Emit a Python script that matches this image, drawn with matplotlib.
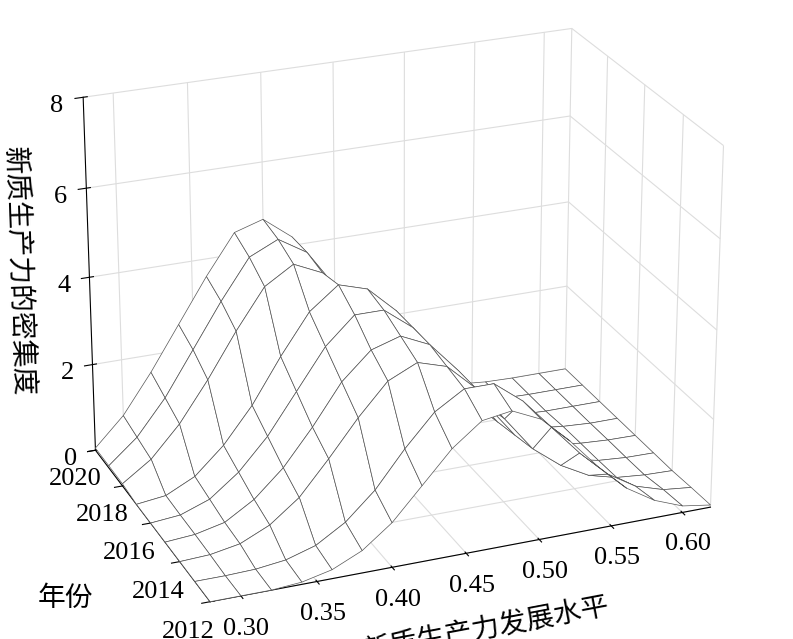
import matplotlib
matplotlib.use("Agg")
import matplotlib.pyplot as plt
import numpy as np

plt.rcParams['font.family'] = ['Liberation Serif', 'Noto Sans CJK SC']

years = [2012, 2013, 2014, 2015, 2016, 2017, 2018, 2019, 2020]
levels = [0.28, 0.30, 0.32, 0.34, 0.36, 0.38, 0.40, 0.42, 0.44,
          0.46, 0.48, 0.50, 0.52, 0.54, 0.56, 0.58, 0.60, 0.62]
density = [
    [0, 0, 0, 0.05, 0.2, 0.5, 1.0, 1.7, 2.4, 2.9, 3.0, 2.7, 2.1, 1.4, 0.8, 0.4, 0.15, 0.05],
    [0, 0, 0.02, 0.1, 0.3, 0.7, 1.3, 2.1, 2.8, 3.2, 3.2, 2.7, 2.0, 1.3, 0.7, 0.3, 0.1, 0.03],
    [0, 0.03, 0.15, 0.45, 0.95, 1.7, 2.5, 3.2, 3.5, 3.3, 2.7, 1.9, 1.1, 0.6, 0.25, 0.08, 0.02, 0],
    [0, 0.05, 0.2, 0.6, 1.2, 2.0, 2.9, 3.5, 3.7, 3.4, 2.7, 1.8, 1.0, 0.5, 0.2, 0.06, 0.01, 0],
    [0, 0.06, 0.3, 0.8, 1.5, 2.4, 3.3, 3.9, 3.9, 3.4, 2.6, 1.7, 0.9, 0.4, 0.15, 0.05, 0.01, 0],
    [0, 0.08, 0.4, 1.0, 1.8, 2.8, 3.7, 4.2, 4.0, 3.4, 2.5, 1.6, 0.8, 0.35, 0.12, 0.04, 0, 0],
    [0.05, 0.5, 1.2, 2.1, 3.1, 4.0, 4.4, 4.1, 3.4, 2.4, 1.5, 0.75, 0.3, 0.1, 0.03, 0, 0, 0],
    [0.05, 0.6, 1.4, 2.4, 3.4, 4.3, 4.6, 4.2, 3.3, 2.3, 1.4, 0.7, 0.28, 0.09, 0.02, 0, 0, 0],
    [0.05, 0.7, 1.6, 2.6, 3.6, 4.5, 4.7, 4.2, 3.3, 2.2, 1.3, 0.65, 0.25, 0.08, 0.02, 0, 0, 0],
]

X, Y = np.meshgrid(levels, years)
Z = np.array(density)

fig = plt.figure(figsize=(7.93, 6.39), dpi=100)
ax = fig.add_axes([-0.08, -0.06, 1.14, 1.14], projection="3d")
ax.plot_surface(X, Y, Z, color="white", edgecolor="#555555", linewidth=0.5,
                rstride=1, cstride=1, shade=False)
ax.view_init(elev=24, azim=-112)
ax.set_box_aspect((1.5, 1.0, 1.1))
ax.set_xlim(0.28, 0.62); ax.set_ylim(2012, 2020); ax.set_zlim(0, 8)
xt = [0.30, 0.35, 0.40, 0.45, 0.50, 0.55, 0.60]
ax.set_xticks(xt)
ax.set_xticklabels([f"{v:.2f}" for v in xt])
ax.set_yticks([2012, 2014, 2016, 2018, 2020])
ax.set_zticks([0, 2, 4, 6, 8])
ax.tick_params(labelsize=19)
ax.set_xlabel("新质生产力发展水平", fontsize=20, labelpad=20)
ax.set_ylabel("年份", fontsize=20, labelpad=26)
ax.set_zlabel("新质生产力的密集度", fontsize=20, labelpad=12)
for a in (ax.xaxis, ax.yaxis, ax.zaxis):
    a.set_pane_color((1, 1, 1, 1))
    a._axinfo["grid"]["color"] = "#dddddd"
    a._axinfo["grid"]["linewidth"] = 0.8
fig.savefig("out.png", dpi=100)
